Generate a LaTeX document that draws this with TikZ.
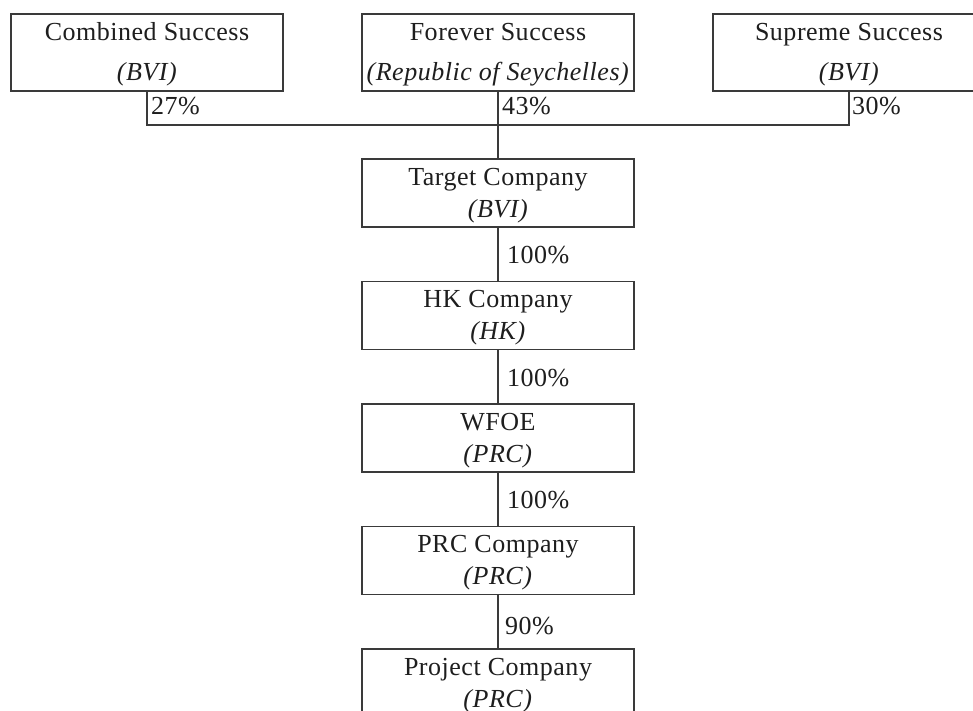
\documentclass[tikz,border=0pt]{standalone}
\usepackage{fontspec}
\setmainfont{Liberation Serif}[LetterSpace=2]
\definecolor{linec}{HTML}{3A3A3A}
\definecolor{txt}{HTML}{1E1E1E}
\begin{document}
\begin{tikzpicture}[x=1pt,y=-1pt,
  box/.style={draw=linec, line width=1.1pt, minimum width=272pt, inner sep=0pt, align=center, text=txt},
  topbox/.style={box, minimum height=77pt, text height=62pt, text depth=7pt, font=\fontsize{26}{40}\selectfont},
  midbox/.style={box, minimum height=68pt, text height=56pt, text depth=8pt, font=\fontsize{26}{32}\selectfont},
  pct/.style={anchor=base west, inner sep=0pt, text=txt, font=\fontsize{26}{30}\selectfont},
  conn/.style={draw=linec, line width=1.1pt}]
\useasboundingbox (0,0) rectangle (973,710);
\fill[white] (0,0) rectangle (973,710);
\clip (0,0) rectangle (973,710);

\node[topbox] (c1) at (147,52.5) {Combined Success\\\textit{(BVI)}};
\node[topbox] (c2) at (498,52.5) {Forever Success\\\textit{(Republic of Seychelles)}};
\node[topbox] (c3) at (849,52.5) {Supreme Success\\\textit{(BVI)}};

\node[midbox] (t) at (498,193) {Target Company\\\textit{(BVI)}};
\node[midbox] (hk) at (498,315.5) {HK Company\\\textit{(HK)}};
\node[midbox] (w) at (498,438) {WFOE\\\textit{(PRC)}};
\node[midbox] (p) at (498,560.5) {PRC Company\\\textit{(PRC)}};
\node[midbox] (pj) at (498,683) {Project Company\\\textit{(PRC)}};

\coordinate (j) at (498,125);
\draw[conn] (c1.south) -- (c1.south |- j) -- (c3.south |- j) -- (c3.south);
\draw[conn] (c2.south) -- (t.north);
\draw[conn] (t.south) -- (hk.north);
\draw[conn] (hk.south) -- (w.north);
\draw[conn] (w.south) -- (p.north);
\draw[conn] (p.south) -- (pj.north);

\node[pct] (l1) at (151,114) {27\%};
\node[pct] (l2) at (502,114) {43\%};
\node[pct] (l3) at (852,114) {30\%};
\node[pct] (l4) at (507,263) {100\%};
\node[pct] (l5) at (507,386) {100\%};
\node[pct] (l6) at (507,508) {100\%};
\node[pct] (l7) at (505,634) {90\%};
\end{tikzpicture}
\end{document}
